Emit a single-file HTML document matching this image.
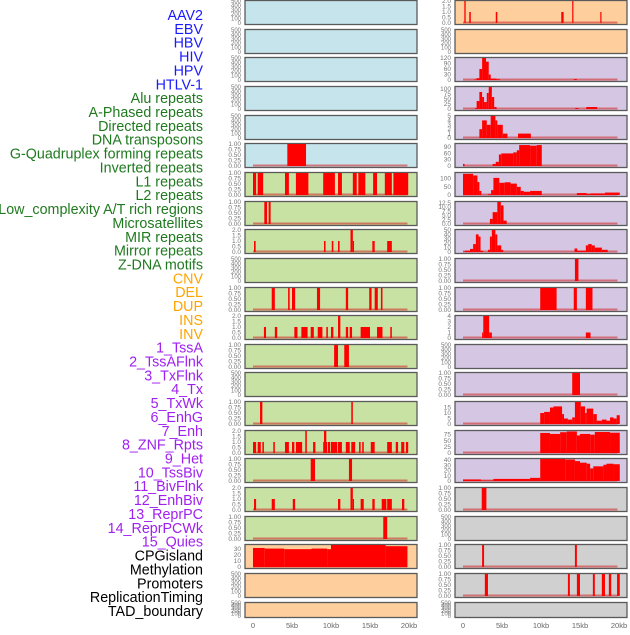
<!DOCTYPE html>
<html><head><meta charset="utf-8"><style>
body{margin:0;background:#fff;width:630px;height:630px;overflow:hidden}
svg{font-family:"Liberation Sans",sans-serif}
</style></head><body>
<svg id="c" width="630" height="630"></svg>
<script>
const labels=["AAV2","EBV","HBV","HIV","HPV","HTLV-1","Alu repeats","A-Phased repeats","Directed repeats","DNA transposons","G-Quadruplex forming repeats","Inverted repeats","L1 repeats","L2 repeats","Low_complexity A/T rich regions","Microsatellites","MIR repeats","Mirror repeats","Z-DNA motifs","CNV","DEL","DUP","INS","INV","1_TssA","2_TssAFlnk","3_TxFlnk","4_Tx","5_TxWk","6_EnhG","7_Enh","8_ZNF_Rpts","9_Het","10_TssBiv","11_BivFlnk","12_EnhBiv","13_ReprPC","14_ReprPCWk","15_Quies","CPGisland","Methylation","Promoters","ReplicationTiming","TAD_boundary"];
const xTicks=[0,5,10,15,20];
const xTickLabels=["0","5kb","10kb","15kb","20kb"];
const ticksEmpty=[0,100,200,300,400,500];
const ticks01=[0,0.25,0.5,0.75,1];
const ticks02=[0,0.5,1,1.5,2];
// bars: [startKb, endKb, value]
const L5=[[4.4,6.8,1]];
const L6=[[0,0.4,1],[0.6,1.3,1],[4.1,4.6,1],[5.5,7.1,1],[9.0,10.5,1],[10.9,11.4,1],[12.8,13.3,1],[13.5,14.4,1],[15.4,15.9,1],[16.9,17.8,1],[18.0,19.9,1]];
const L7=[[1.45,1.8,1],[2.0,2.26,1]];
const L8=[[0.13,0.34,1],[9.1,9.3,1],[10.1,10.3,1],[10.9,11.1,1],[12.5,12.8,2],[12.8,12.9,1],[15.3,15.6,1],[17.2,17.8,1]];
const L10=[[2.4,2.8,1],[4.5,4.7,1],[5.0,5.4,1],[8.2,8.6,1],[11.9,12.2,1],[14.9,15.2,1],[15.6,16.0,1],[16.4,16.6,1]];
const L11=[[1.4,1.67,1],[2.8,3.1,1],[5.3,5.7,1],[6.2,7.0,1],[7.4,7.8,1],[8.3,8.9,1],[9.4,9.6,1],[10.0,10.3,1],[10.9,11.2,2],[11.9,12.2,1],[12.4,12.7,1],[13.8,15.0,1],[15.9,16.6,1],[17.6,17.8,1]];
const L12=[[10.4,10.9,1],[11.7,12.3,1]];
const L14=[[0.9,1.2,1],[12.6,12.8,1]];
const L15=[[0,0.4,1],[0.6,1.0,1],[1.2,1.4,1],[2.6,2.8,1],[4.1,4.6,1],[5.0,5.3,1],[5.5,6.3,1],[6.7,6.9,2],[7.7,8.0,1],[9.0,9.5,1],[9.1,9.4,2],[9.6,9.9,1],[10.0,10.8,1],[10.9,11.4,1],[11.9,12.4,1],[12.6,13.1,1],[13.6,13.8,1],[14.0,14.2,1],[15.1,15.6,1],[17.2,17.8,1],[18.3,18.6,1],[19.0,19.4,1],[19.6,19.9,1]];
const L16=[[7.4,7.95,1],[12.3,12.7,1]];
const L17=[[0.13,0.4,1],[2.4,2.8,1],[5.1,5.4,1],[10.9,11.2,1],[12.5,12.8,2],[12.8,12.9,1],[13.8,14.2,1],[15.3,15.6,1],[16.5,17.1,1],[17.2,17.8,1],[19.1,19.4,1]];
const L18=[[16.7,17.2,1]];
const L19=[[0,1.5,32],[1.5,4,31],[4,7.5,30],[7.5,9.5,31],[9.5,10,30],[10,17,37],[17,19.8,35]];
const R0=[[0.17,0.34,2],[0.8,1.0,1],[4.2,4.4,1],[12.6,12.9,1],[14.0,14.15,2],[17.6,17.75,1]];
const R2=[[1.45,1.75,3],[1.75,2.1,10],[2.1,2.45,60],[2.45,2.95,120],[2.95,3.3,100],[3.3,3.55,30],[3.55,4.3,8],[4.3,4.75,4],[14.2,14.6,5]];
const R3=[[1.55,1.75,5],[1.75,2.1,40],[2.1,2.45,85],[2.45,2.7,60],[2.7,3.05,35],[3.05,3.3,80],[3.3,3.7,110],[3.7,4.0,60],[4.0,4.3,10],[14.4,14.8,5],[15.8,17.2,10]];
const R4=[[2.1,2.45,2],[2.45,3.05,4],[3.05,3.55,3],[3.55,4.15,5],[4.15,4.4,4],[4.4,5.1,3],[5.1,5.7,1],[7.05,8.7,1]];
const R5=[[0,0.2,10],[3.8,4.2,10],[4.2,4.6,20],[4.6,4.9,55],[4.9,6.45,60],[6.45,6.9,65],[6.9,7.2,75],[7.2,8.6,100],[8.6,9.45,97],[9.45,10.1,100]];
const R6=[[0,1.3,130],[1.3,1.85,120],[1.85,2.1,80],[2.1,2.35,25],[3.2,3.6,5],[3.6,3.9,30],[3.9,4.65,105],[4.65,5.35,75],[5.35,6.1,78],[6.1,6.9,70],[6.9,7.4,50],[7.4,7.8,25],[7.8,8.6,20],[8.6,10.1,25],[14.6,15.85,12],[15.85,16.35,8],[16.35,18.2,10],[18.2,20.1,15]];
const R7=[[3.45,3.8,3],[3.8,4.4,7],[4.4,4.85,13],[4.85,5.2,11],[5.2,5.6,2]];
const R8=[[0,0.25,1],[0.25,0.9,3],[0.9,1.3,7],[1.3,1.65,18],[1.65,2.0,40],[2.0,2.25,35],[2.25,2.6,3],[3.2,3.45,5],[3.45,3.7,35],[3.7,4.15,50],[4.15,4.4,40],[4.4,4.9,15],[4.9,5.15,5],[14.3,14.65,8],[14.65,15.75,3],[15.75,16.05,15],[16.05,16.5,18],[16.5,16.9,15],[16.9,17.8,10],[17.8,18.55,5]];
const R9=[[14.35,14.8,1]];
const R10=[[9.9,12.0,1],[14.2,14.6,1],[15.75,16.6,1]];
const R11=[[2.45,2.6,1],[2.6,3.35,4],[3.35,3.7,1],[15.75,16.35,1]];
const R13=[[14.0,15.0,1]];
const R14=[[9.9,10.4,10],[10.4,11.15,11],[11.15,11.6,15],[11.6,12.7,16],[12.7,12.95,9],[12.95,13.45,5],[13.45,14.0,4],[14.0,14.35,6],[14.35,15.1,20],[15.1,15.65,16],[15.65,15.85,10],[15.85,16.7,14],[16.7,17.15,9],[17.15,17.8,3],[17.8,18.4,4],[18.4,18.85,3],[18.85,19.3,6],[19.3,19.7,5],[19.7,20.1,8]];
const R15=[[9.9,11.15,82],[11.15,12.45,78],[12.45,13.3,85],[13.3,14.6,88],[14.6,15.0,72],[15.0,16.3,78],[16.3,16.9,75],[16.9,18.85,86],[18.85,20.1,83]];
const R16=[[0,2.3,3],[2.3,3.9,1],[3.9,8.6,4],[8.6,9.9,6],[9.9,13.1,42],[13.1,14.35,41],[14.35,15.0,38],[15.0,15.85,35],[15.85,16.3,33],[16.3,16.7,24],[16.7,18.0,28],[18.0,18.4,31],[18.4,19.3,33],[19.3,20.1,32]];
const R17=[[2.4,3.0,1]];
const R19=[[2.45,2.7,1],[14.35,14.6,1]];
const R20=[[2.8,3.2,1],[13.45,13.7,1],[14.6,15.0,1],[16.65,16.9,1],[17.8,18.2,1],[18.7,19.0,1],[19.75,20.1,1]];

const C={b:"#c6e4ec",g:"#c8e2a4",o:"#fecf9d",p:"#d5c6e3",y:"#d0d0d0"};
const left=[[null,null,null,C.b],[null,null,null,C.b],[null,null,null,C.b],[null,null,null,C.b],[null,null,null,C.b],[L5,1,ticks01,C.b],
[L6,1,ticks01,C.g],[L7,1,ticks01,C.g],[L8,2,ticks02,C.g],[null,null,null,C.g],[L10,1,ticks01,C.g],[L11,2,ticks02,C.g],[L12,1,ticks01,C.g],[null,null,null,C.g],[L14,1,ticks01,C.g],[L15,2,ticks02,C.g],[L16,1,ticks01,C.g],[L17,2,ticks02,C.g],[L18,1,ticks01,C.g],
[L19,37,[0,10,20,30],C.o],[null,null,null,C.o],[null,null,null,C.o]];
const right=[[R0,2,ticks02,C.o],[null,null,null,C.o],
[R2,120,[0,30,60,90,120],C.p],[R3,110,[0,25,50,75,100],C.p],[R4,5,[0,1,2,3,4,5],C.p],[R5,105,[0,30,60,90],C.p],[R6,135,[0,50,100],C.p],[R7,13,[0,2.5,5,7.5,10,12.5],C.p],[R8,50,[0,10,20,30,40,50],C.p],[R9,1,ticks01,C.p],[R10,1,ticks01,C.p],[R11,4,[0,1,2,3,4],C.p],[null,null,null,C.p],[R13,1,ticks01,C.p],[R14,20,[0,5,10,15],C.p],[R15,90,[0,25,50,75],C.p],[R16,42,[0,10,20,30,40],C.p],
[R17,1,ticks01,C.y],[null,null,null,C.y],[R19,1,ticks01,C.y],[R20,1,ticks01,C.y],[null,null,null,C.y]];

const NS="http://www.w3.org/2000/svg";
const svg=document.getElementById('c');
function mk(t,a,p){const e=document.createElementNS(NS,t);for(const k in a)e.setAttribute(k,a[k]);(p||svg).appendChild(e);return e;}
function fmt(v,ticks){if(ticks===ticks01)return v.toFixed(2);
 const dec=ticks.some(t=>t%1)?1:0;return v.toFixed(dec);}
labels.forEach((s,i)=>{const col=i<6?"#1a1aff":i<19?"#1f7a1f":i<24?"#ffa500":i<39?"#a020f0":"#000";
 const t=mk('text',{x:203,y:15+i*13.86+5,'text-anchor':'end','font-size':14.3,fill:col});
 t.textContent=s;
 
 });
function column(list,px0,offset){
 const xs=k=>px0+k*7.8;
 list.forEach((p,i)=>{
  const top=Math.round(i*28.65), h=(i===21)?16:25;
  const g=mk('g',{});
  
  
  const X0=px0-8, X1=px0+164;
  mk('rect',{x:X0,y:top+0.5,width:X1-X0,height:h-1,fill:p[3],stroke:"#5a5a5a",'stroke-width':1.3},g);
  const z=top+h-2, range=h-3;
  const data=p[0], mx=p[1]||500, ticks=p[2]||ticksEmpty;
  const ys=v=>z-v/mx*range;
  ticks.forEach(t=>{const tx=mk('text',{x:X0-4,y:ys(t)+2,'text-anchor':'end','font-size':(data?6.5:6),fill:"#777"},g);
   tx.textContent=data?fmt(t,ticks):String(t);
   
   });
  if(data){
   mk('line',{x1:xs(0),x2:xs(19.8),y1:z-0.5,y2:z-0.5,stroke:"rgba(210,50,50,0.6)",'stroke-width':2},g);
   data.forEach(d=>{const r=mk('rect',{x:xs(d[0]),y:ys(d[2]),width:Math.max(1.2,xs(d[1])-xs(d[0])),height:z-ys(d[2]),fill:"#ff0000"},g);
    
    });
  }
 });
 xTicks.forEach((k,j)=>{const t=mk('text',{x:xs(k),y:628,'text-anchor':'middle','font-size':7.5,fill:"#666"});
  t.textContent=xTickLabels[j];
  
  });
}
column(left,253,0);
column(right,463,22);
</script>
</body></html>
